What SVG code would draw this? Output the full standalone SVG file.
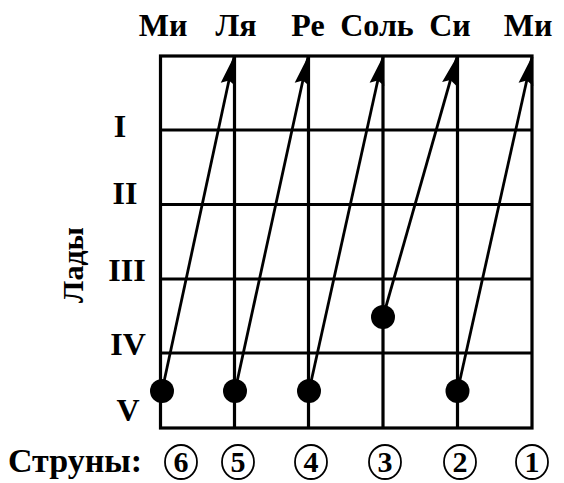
<svg xmlns="http://www.w3.org/2000/svg" width="564" height="483" viewBox="0 0 564 483">
<style>
.t{font-family:"Liberation Serif","Times New Roman",serif;font-weight:bold;fill:#000}
.hdr{font-size:32px;text-anchor:middle}
.rom{font-size:32px;text-anchor:middle}
.num{font-size:30px;text-anchor:middle}
.grid{stroke:#000;stroke-width:3.2;fill:none}
.arr{stroke:#000;stroke-width:2.8;fill:none;marker-end:url(#ah)}
.dot{fill:#000}
.nc{fill:none;stroke:#000;stroke-width:1.8}
</style>
<defs>
<marker id="ah" markerUnits="userSpaceOnUse" viewBox="-32 -10 34 20" refX="0" refY="0" markerWidth="34" markerHeight="20" orient="auto">
<path d="M1,0 L-28,-7.5 L-24,0 L-28,7.5 Z" fill="#000"/>
</marker>
</defs>
<g id="headers">
<text class="t hdr" x="163" y="36">Ми</text>
<text class="t hdr" x="236" y="36">Ля</text>
<text class="t hdr" x="308" y="36">Ре</text>
<text class="t hdr" x="377" y="36">Соль</text>
<text class="t hdr" x="450" y="36">Си</text>
<text class="t hdr" x="528" y="36">Ми</text>
</g>
<g id="grid">
<rect class="grid" x="160.5" y="56" width="371.5" height="372" stroke-width="3.6"/>
<line class="grid" x1="234.5" y1="56" x2="234.5" y2="428"/>
<line class="grid" x1="308.5" y1="56" x2="308.5" y2="428"/>
<line class="grid" x1="383" y1="56" x2="383" y2="428"/>
<line class="grid" x1="457.5" y1="56" x2="457.5" y2="428"/>
<line class="grid" x1="160.5" y1="130" x2="532" y2="130"/>
<line class="grid" x1="160.5" y1="204.5" x2="532" y2="204.5"/>
<line class="grid" x1="160.5" y1="279" x2="532" y2="279"/>
<line class="grid" x1="160.5" y1="353" x2="532" y2="353"/>
</g>
<g id="frets">
<text class="t rom" x="120" y="137">I</text>
<text class="t rom" x="125" y="204">II</text>
<text class="t rom" x="127" y="281">III</text>
<text class="t rom" x="128" y="355">IV</text>
<text class="t rom" x="128" y="421">V</text>
<text class="t" font-size="30" text-anchor="middle" transform="translate(83,265) rotate(-90)">Лады</text>
</g>
<g id="connectors">
<line class="arr" x1="162" y1="391" x2="234" y2="57"/>
<line class="arr" x1="235" y1="391" x2="308" y2="57"/>
<line class="arr" x1="309" y1="391" x2="383" y2="57"/>
<line class="arr" x1="383" y1="317" x2="457" y2="57"/>
<line class="arr" x1="457.5" y1="391" x2="532" y2="57"/>
</g>
<g id="dots">
<circle class="dot" cx="162" cy="391" r="12"/>
<circle class="dot" cx="235" cy="391" r="12"/>
<circle class="dot" cx="309" cy="391" r="12"/>
<circle class="dot" cx="383" cy="317" r="12"/>
<circle class="dot" cx="457.5" cy="391" r="12"/>
</g>
<g id="strings">
<text class="t" font-size="34" x="8" y="472">Струны:</text>
<g id="s6"><ellipse class="nc" cx="181" cy="462" rx="16" ry="17"/><text class="t num" x="181" y="472">6</text></g>
<g id="s5"><ellipse class="nc" cx="238" cy="462" rx="16" ry="17"/><text class="t num" x="238" y="472">5</text></g>
<g id="s4"><ellipse class="nc" cx="311" cy="462" rx="16" ry="17"/><text class="t num" x="311" y="472">4</text></g>
<g id="s3"><ellipse class="nc" cx="385" cy="462" rx="16" ry="17"/><text class="t num" x="385" y="472">3</text></g>
<g id="s2"><ellipse class="nc" cx="460" cy="462" rx="16" ry="17"/><text class="t num" x="460" y="472">2</text></g>
<g id="s1"><ellipse class="nc" cx="532" cy="462" rx="16" ry="17"/><text class="t num" x="532" y="472">1</text></g>
</g>
</svg>
